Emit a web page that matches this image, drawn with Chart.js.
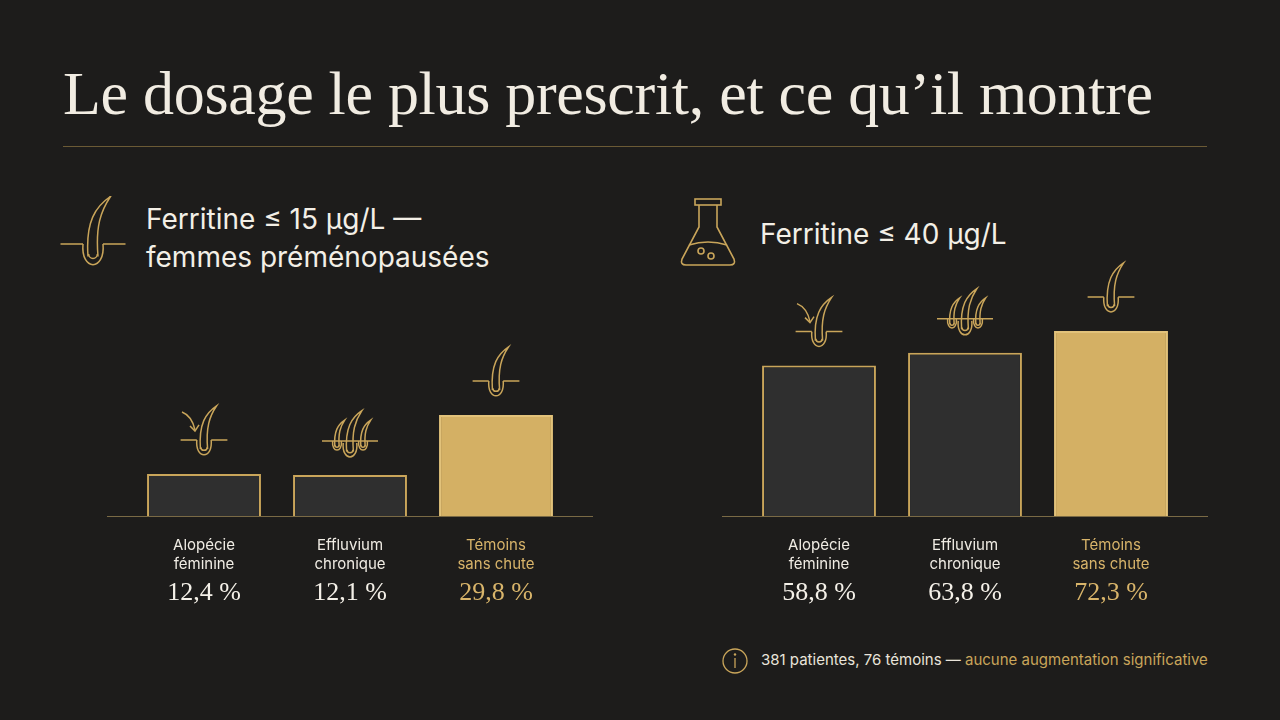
<!DOCTYPE html>
<html>
<head>
<meta charset="utf-8">
<script src="https://cdn.jsdelivr.net/npm/chart.js@4"></script>
<style>
  body { margin:0; width:1280px; height:720px; background:#1d1c1b; overflow:hidden; font-family:Inter, "Noto Sans", sans-serif; color:#f3efe6; position:relative; }
  .title { position:absolute; left:63px; top:58px; font-family:"Liberation Serif", serif; font-size:62px; color:#f1ece2; letter-spacing:-0.3px; }
  .rule { position:absolute; left:63px; top:146px; width:1144px; height:1px; background:#6b5a35; }
  .head { position:absolute; font-size:28px; line-height:38px; color:#f3efe6; }
  .foot { position:absolute; left:761px; top:650px; font-size:15px; color:#e9e4da; }
  .foot span { color:#c9a55a; }
  canvas.ico { position:absolute; }
  .chart { position:absolute; width:486px; }
</style>
</head>
<body>
<div class="title">Le dosage le plus prescrit, et ce qu’il montre</div>
<div class="rule"></div>
<canvas class="ico" id="icoL" width="70" height="80" style="left:60px;top:196px"></canvas>
<div class="head" style="left:146px;top:200px">Ferritine ≤ 15 µg/L —<br>femmes préménopausées</div>
<canvas class="ico" id="icoR" width="70" height="80" style="left:675px;top:193px"></canvas>
<div class="head" style="left:760px;top:215px">Ferritine ≤ 40 µg/L</div>
<canvas class="ico" id="icoI" width="30" height="30" style="left:720px;top:646px"></canvas>
<div class="foot">381 patientes, 76 témoins — <span>aucune augmentation significative</span></div>
<div class="chart" style="left:107px;top:300px;height:320px"><canvas id="chartL"></canvas></div>
<div class="chart" style="left:722px;top:250px;height:370px"><canvas id="chartR"></canvas></div>
<script>
const categories = [["Alopécie", "féminine"], ["Effluvium", "chronique"], ["Témoins", "sans chute"]];
const valuesLow = [12.4, 12.1, 29.8];
const valuesHigh = [58.8, 63.8, 72.3];
const labelsLow = ["12,4 %", "12,1 %", "29,8 %"];
const labelsHigh = ["58,8 %", "63,8 %", "72,3 %"];
const iconTypes = ["arrow", "triple", "single"];

const GOLD = "#c9a55a";

// one hair: baseline line, follicle bulb, strand curving up-right
function drawHair(ctx, x, y, s, line) {
  ctx.save();
  ctx.strokeStyle = GOLD; ctx.lineWidth = 1.5;
  if (line) {
    ctx.beginPath(); ctx.moveTo(x - 26 * s, y); ctx.lineTo(x - 8 * s, y);
    ctx.moveTo(x + 8 * s, y); ctx.lineTo(x + 26 * s, y); ctx.stroke();
  }
  ctx.beginPath();
  ctx.moveTo(x - 8 * s, y);
  ctx.bezierCurveTo(x - 10 * s, y + 22 * s, x + 10 * s, y + 22 * s, x + 8 * s, y);
  ctx.stroke();
  ctx.beginPath();
  ctx.moveTo(x - 4 * s, y + 10 * s);
  ctx.bezierCurveTo(x - 6 * s, y - 18 * s, x + 2 * s, y - 30 * s, x + 14 * s, y - 38 * s);
  ctx.bezierCurveTo(x + 6 * s, y - 26 * s, x + 2 * s, y - 14 * s, x + 4 * s, y + 10 * s);
  ctx.stroke();
  ctx.beginPath(); ctx.arc(x, y + 8 * s, 3.5 * s, 0, Math.PI); ctx.stroke();
  ctx.restore();
}

function drawIcon(ctx, type, x, y) {
  ctx.save();
  ctx.strokeStyle = GOLD; ctx.lineWidth = 1.5;
  if (type === "single") {
    drawHair(ctx, x, y, 0.9, true);
  } else if (type === "arrow") {
    drawHair(ctx, x, y, 0.9, true);
    ctx.beginPath(); ctx.moveTo(x - 22, y - 28); ctx.quadraticCurveTo(x - 12, y - 24, x - 9, y - 10); ctx.stroke();
    ctx.beginPath(); ctx.moveTo(x - 14, y - 14); ctx.lineTo(x - 9, y - 9); ctx.lineTo(x - 5, y - 15); ctx.stroke();
  } else {
    ctx.beginPath(); ctx.moveTo(x - 28, y); ctx.lineTo(x + 28, y); ctx.stroke();
    drawHair(ctx, x - 13, y, 0.55, false);
    drawHair(ctx, x + 13, y, 0.55, false);
    drawHair(ctx, x, y + 2, 0.85, false);
  }
  ctx.restore();
}

const barDecor = {
  id: "barDecor",
  afterDatasetsDraw(chart, args, opts) {
    const ctx = chart.ctx;
    const meta = chart.getDatasetMeta(0);
    const base = chart.scales.y.getPixelForValue(0);
    ctx.save();
    ctx.strokeStyle = "#7a6a45"; ctx.lineWidth = 1;
    ctx.beginPath(); ctx.moveTo(0, base + 0.5); ctx.lineTo(chart.width, base + 0.5); ctx.stroke();
    meta.data.forEach((bar, i) => {
      drawIcon(ctx, iconTypes[i], bar.x, bar.y - 34);
      ctx.fillStyle = i === 2 ? "#d8b46a" : "#f0ece4";
      ctx.textAlign = "center"; ctx.textBaseline = "alphabetic";
      ctx.font = "15px Inter, 'Noto Sans', sans-serif";
      ctx.fillText(categories[i][0], bar.x, base + 34);
      ctx.fillText(categories[i][1], bar.x, base + 53);
      ctx.font = "26px 'Liberation Serif', serif";
      ctx.fillStyle = i === 2 ? "#d8b46a" : "#f4f0e8";
      ctx.fillText(opts.labels[i], bar.x, base + 84);
    });
    ctx.restore();
  }
};

function goldFill(context) {
  const chart = context.chart;
  const el = context.element;
  if (!chart.chartArea || !el || !Number.isFinite(el.x) || !Number.isFinite(el.y)) return "#d4b064";
  const bottom = chart.scales.y.getPixelForValue(0);
  if (!Number.isFinite(bottom)) return "#d4b064";
  const g = chart.ctx.createLinearGradient(el.x - 57, el.y, el.x + 57, bottom);
  g.addColorStop(0, "#a8843f");
  g.addColorStop(0.5, "#f6de92");
  g.addColorStop(1, "#a67c35");
  return g;
}

function makeChart(id, values, labels, max) {
  return new Chart(document.getElementById(id), {
    type: "bar",
    data: {
      labels: categories.map(c => c.join(" ")),
      datasets: [{
        data: values,
        backgroundColor: (c) => c.dataIndex === 2 ? goldFill(c) : "#2f2f2f",
        borderColor: (c) => c.dataIndex === 2 ? "#e2c27a" : GOLD,
        borderWidth: 2,
        borderSkipped: "bottom",
        barPercentage: 0.78,
        categoryPercentage: 1
      }]
    },
    options: {
      responsive: true,
      maintainAspectRatio: false,
      animation: false,
      layout: { padding: { left: 24, right: 24, top: 0, bottom: 104 } },
      plugins: { legend: { display: false }, tooltip: { enabled: false }, barDecor: { labels } },
      scales: {
        x: { display: false },
        y: { display: false, min: 0, max }
      }
    },
    plugins: [barDecor]
  });
}

// header icons
(function () {
  const a = document.getElementById("icoL").getContext("2d");
  drawHair(a, 33, 48, 1.25, true);
  const f = document.getElementById("icoR").getContext("2d");
  f.strokeStyle = GOLD; f.lineWidth = 1.6;
  f.beginPath();
  f.moveTo(24, 12); f.lineTo(24, 34); f.lineTo(7, 66); f.quadraticCurveTo(5, 72, 11, 72);
  f.lineTo(55, 72); f.quadraticCurveTo(61, 72, 59, 66); f.lineTo(42, 34); f.lineTo(42, 12); f.stroke();
  f.strokeRect(20, 6, 26, 6);
  f.beginPath(); f.moveTo(14, 52); f.quadraticCurveTo(33, 46, 52, 52); f.stroke();
  f.beginPath(); f.arc(26, 58, 3, 0, Math.PI * 2); f.stroke();
  f.beginPath(); f.arc(36, 63, 3, 0, Math.PI * 2); f.stroke();
  const i = document.getElementById("icoI").getContext("2d");
  i.strokeStyle = GOLD; i.lineWidth = 1.3;
  i.beginPath(); i.arc(15, 15, 12, 0, Math.PI * 2); i.stroke();
  i.beginPath(); i.moveTo(15, 12); i.lineTo(15, 22); i.stroke();
  i.fillStyle = GOLD; i.beginPath(); i.arc(15, 8.5, 1.2, 0, Math.PI * 2); i.fill();
})();

makeChart("chartL", valuesLow, labelsLow, 63.7);
makeChart("chartR", valuesHigh, labelsHigh, 104);
</script>
</body>
</html>
